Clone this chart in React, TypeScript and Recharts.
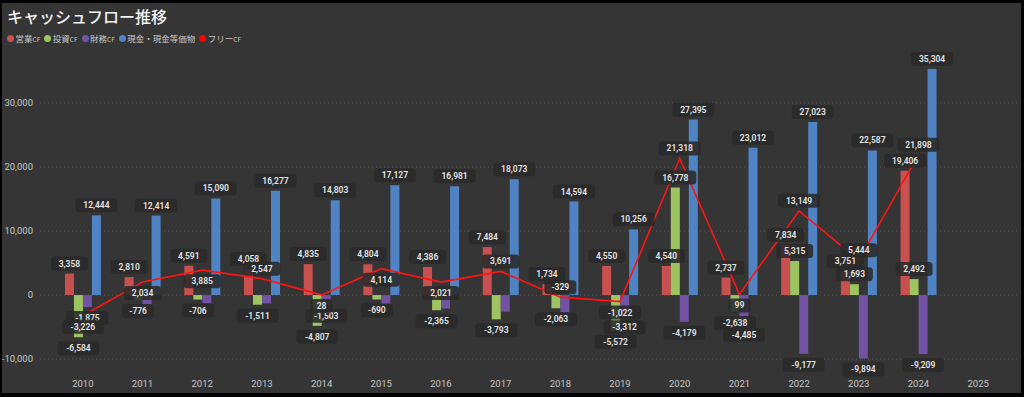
import React from 'react';
import {
  ComposedChart,
  Bar,
  Line,
  XAxis,
  YAxis,
  CartesianGrid,
  LabelList
} from 'recharts';

const years = ['2010', '2011', '2012', '2013', '2014', '2015', '2016', '2017', '2018', '2019', '2020', '2021', '2022', '2023', '2024', '2025'];
const operatingCF = [3358, 2810, 4591, 4058, 4835, 4804, 4386, 7484, 1734, 4550, 4540, 2737, 7834, 3751, 19406, null];
const investingCF = [-6584, -776, -706, -1511, -4807, -690, -2365, -3793, -2063, -5572, 16778, -2638, 5315, 1693, 2492, null];
const financingCF = [-1875, -1900, -1300, -1300, -1503, -1450, -2100, -2600, -2750, -3312, -4179, -4485, -9177, -9894, -9209, null];
const cashEq = [12444, 12414, 15090, 16277, 14803, 17127, 16981, 18073, 14594, 10256, 27395, 23012, 27023, 22587, 35304, null];
const freeCF = [-3226, 2034, 3885, 2547, 28, 4114, 2021, 3691, -329, -1022, 21318, 99, 13149, 5444, 21898, null];
const yTicks = [-10000, 0, 10000, 20000, 30000];

// labels the original hides because they overlap
const financingLabelShown = [true, false, false, false, true, false, false, false, false, true, true, true, true, true, true, false];
const freeLabelBelow = ['2010', '2011', '2012', '2014', '2015', '2016', '2019', '2021'];

const data = years.map((year, i) => ({
  year,
  operating: operatingCF[i],
  investing: investingCF[i],
  financing: financingCF[i],
  cash: cashEq[i],
  free: freeCF[i],
}));

const COLORS = {
  operating: '#c8504f',
  investing: '#9ec462',
  financing: '#7152a3',
  cash: '#4f83c3',
  free: '#ff1414',
};

const fmt = (v: number) => v.toLocaleString('en-US');

function LabelBox({ cx, cy, text }: { cx: number; cy: number; text: string }) {
  const w = text.length * 5 + 12;
  return (
    <g>
      <rect x={cx - w / 2} y={cy - 7} width={w} height={14} rx={3.5} fill="#2a2a2a" fillOpacity={0.88} />
      <text x={cx} y={cy} dy="0.35em" textAnchor="middle" fill="#e4e4e4" fontSize={8.5} fontWeight={600} fontFamily="Roboto">
        {text}
      </text>
    </g>
  );
}

const barLabel = (shown?: boolean[]) => (props: any) => {
  const { x, y, width, height, value, index } = props;
  if (value == null || (shown && !shown[index])) return null;
  const top = Math.min(y, y + height);
  const bottom = Math.max(y, y + height);
  const cy = value >= 0 ? top - 10 : bottom + 11;
  return <LabelBox key={`l-${index}`} cx={x + width / 2} cy={cy} text={fmt(value)} />;
};

const freeLabel = (props: any) => {
  const { x, y, value, index } = props;
  if (value == null) return null;
  const below = freeLabelBelow.includes(years[index]);
  return <LabelBox key={`f-${index}`} cx={x} cy={below ? y + 11 : y - 10} text={fmt(value)} />;
};

const legendItems = [
  { name: '営業', suffix: 'CF', color: COLORS.operating },
  { name: '投資', suffix: 'CF', color: COLORS.investing },
  { name: '財務', suffix: 'CF', color: COLORS.financing },
  { name: '現金・現金等価物', suffix: '', color: COLORS.cash },
  { name: 'フリー', suffix: 'CF', color: '#ff0000' },
];

export default function App() {
  return (
    <div style={{ width: 1024, height: 397, background: '#000', position: 'relative', overflow: 'hidden' }}>
      <style>{`body{margin:0}`}</style>
      <div style={{ position: 'absolute', left: 2, top: 3, width: 1019, height: 390, background: '#353535' }}>
        <div
          style={{
            position: 'absolute', left: 5, top: 3, fontSize: 16, lineHeight: '20px', color: '#f2f2f2',
            fontFamily: '"Noto Sans CJK JP", "Noto Sans", sans-serif', fontWeight: 500,
          }}
        >
          キャッシュフロー推移
        </div>
        <div style={{ position: 'absolute', left: 5, top: 29, display: 'flex', alignItems: 'center', gap: 4, fontFamily: '"Noto Sans CJK JP", "Noto Sans", sans-serif' }}>
          {legendItems.map((item) => (
            <div key={item.name} style={{ display: 'flex', alignItems: 'center', gap: 1.5, color: '#c8c8c8', fontSize: 8.5, lineHeight: '12px' }}>
              <span style={{ width: 7, height: 7, borderRadius: '50%', background: item.color, display: 'inline-block' }} />
              <span>
                {item.name}
                <span style={{ fontSize: 6.5 }}>{item.suffix}</span>
              </span>
            </div>
          ))}
        </div>
        <div style={{ position: 'absolute', left: 0, top: 0 }}>
          <ComposedChart
            width={1019}
            height={390}
            data={data}
            margin={{ top: 57, right: 3, left: 2, bottom: 3 }}
            barCategoryGap="20%"
            barGap={0}
          >
            <CartesianGrid
              horizontal
              vertical={false}
              stroke="#5a5a5a"
              strokeDasharray="1 3"
              syncWithTicks
            />
            <XAxis
              dataKey="year"
              padding={{ left: 13, right: 10 }}
              tickLine={false}
              axisLine={false}
              height={20}
              tick={{ fill: '#c4c4c4', fontSize: 9.5, fontFamily: 'Roboto' }}
              tickMargin={4}
            />
            <YAxis
              width={36}
              domain={[-11700, 36700]}
              ticks={yTicks}
              tickFormatter={fmt}
              tickLine={false}
              axisLine={false}
              tickMargin={1}
              tick={{ fill: '#c4c4c4', fontSize: 9.5, fontFamily: 'Roboto' }}
              allowDataOverflow
            />
            <Bar dataKey="operating" fill={COLORS.operating} isAnimationActive={false}>
              <LabelList dataKey="operating" content={barLabel()} />
            </Bar>
            <Bar dataKey="investing" fill={COLORS.investing} isAnimationActive={false}>
              <LabelList dataKey="investing" content={barLabel()} />
            </Bar>
            <Bar dataKey="financing" fill={COLORS.financing} isAnimationActive={false}>
              <LabelList dataKey="financing" content={barLabel(financingLabelShown)} />
            </Bar>
            <Bar dataKey="cash" fill={COLORS.cash} isAnimationActive={false}>
              <LabelList dataKey="cash" content={barLabel()} />
            </Bar>
            <Line
              dataKey="free"
              stroke={COLORS.free}
              strokeWidth={1.6}
              dot={false}
              activeDot={false}
              isAnimationActive={false}
            >
              <LabelList dataKey="free" content={freeLabel} />
            </Line>
          </ComposedChart>
        </div>
      </div>
    </div>
  );
}
